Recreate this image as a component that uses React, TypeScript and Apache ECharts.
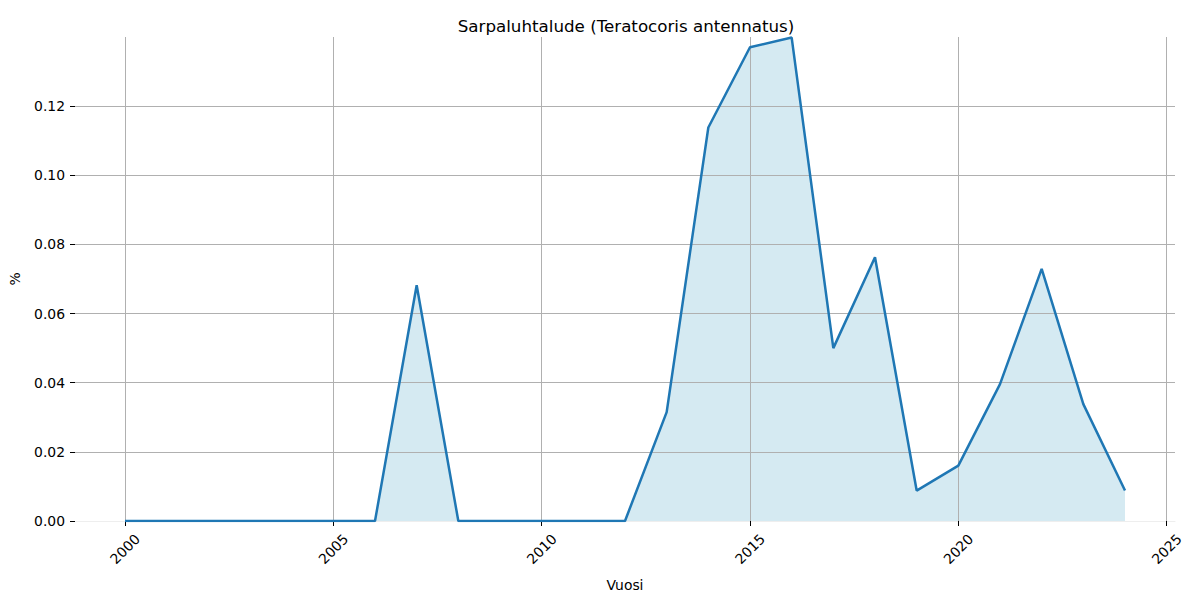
import React, { useEffect, useRef } from "react";
import * as echarts from "echarts";

const years = [2000, 2001, 2002, 2003, 2004, 2005, 2006, 2007, 2008, 2009, 2010, 2011, 2012, 2013, 2014, 2015, 2016, 2017, 2018, 2019, 2020, 2021, 2022, 2023, 2024];
const values = [0, 0, 0, 0, 0, 0, 0, 0.0682, 0, 0, 0, 0, 0, 0.0315, 0.1138, 0.137, 0.1398, 0.05, 0.0763, 0.0088, 0.016, 0.0396, 0.0729, 0.0338, 0.0088];
const xTicks = [2000, 2005, 2010, 2015, 2020, 2025];
const yTicks = [0, 0.02, 0.04, 0.06, 0.08, 0.1, 0.12];

const titleText = "Sarpaluhtalude (Teratocoris antennatus)";
const xName = "Vuosi";
const yName = "%";

export default function App() {
  const ref = useRef<HTMLDivElement>(null);
  useEffect(() => {
    if (!ref.current) return;
    const chart = echarts.init(ref.current, null, { renderer: "svg" });
    const font = "DejaVu Sans";
    const data = years.map((y, i) => [y, values[i]]);
    chart.setOption({
      animation: false,
      backgroundColor: "#ffffff",
      textStyle: { fontFamily: font },
      title: {
        text: titleText,
        left: 621,
        top: 12,
        textAlign: "center",
        textStyle: { fontFamily: font, fontSize: 16.7, fontWeight: "normal", color: "#000" },
      },
      grid: { left: 75, right: 25, top: 37, bottom: 79, containLabel: false },
      xAxis: {
        type: "value",
        min: 1998.8,
        max: 2025.2,
        z: 2,
        name: xName,
        nameLocation: "middle",
        nameGap: 57,
        nameTextStyle: { fontFamily: font, fontSize: 13.9, color: "#000" },
        axisLine: { show: true, lineStyle: { color: "#eeeeee", width: 1 } },
        axisTick: { show: true, customValues: xTicks, length: 5, lineStyle: { color: "#000", width: 1 } },
        axisLabel: {
          customValues: xTicks,
          rotate: 45,
          align: "center",
          verticalAlign: "middle",
          margin: 28,
          fontFamily: font,
          fontSize: 13.9,
          color: "#000",
          formatter: (v: number) => String(Math.round(v)),
        },
        splitLine: { show: true, lineStyle: { color: "#b0b0b0", width: 1 } },
      },
      yAxis: {
        type: "value",
        min: 0,
        max: 0.13997,
        z: 2,
        name: yName,
        nameLocation: "middle",
        nameGap: 53,
        nameRotate: 90,
        nameTextStyle: { fontFamily: font, fontSize: 13.9, color: "#000" },
        axisLine: { show: false },
        axisTick: { show: true, customValues: yTicks, length: 5, lineStyle: { color: "#000", width: 1 } },
        axisLabel: {
          customValues: yTicks,
          margin: 10,
          fontFamily: font,
          fontSize: 13.9,
          color: "#000",
          formatter: (v: number) => v.toFixed(2),
        },
        splitLine: { show: true, lineStyle: { color: "#b0b0b0", width: 1 } },
      },
      series: [
        {
          type: "line",
          data,
          showSymbol: false,
          lineStyle: { width: 0, opacity: 0 },
          areaStyle: { color: "#d5eaf2", opacity: 1, origin: 0 },
          z: 1,
          silent: true,
        },
        {
          type: "line",
          data,
          showSymbol: false,
          lineStyle: { color: "#1f77b4", width: 2.5 },
          itemStyle: { color: "#1f77b4" },
          z: 3,
        },
      ],
    });
    return () => chart.dispose();
  }, []);
  return <div ref={ref} style={{ width: 1200, height: 600, position: "absolute", left: 0, top: 0 }} />;
}
